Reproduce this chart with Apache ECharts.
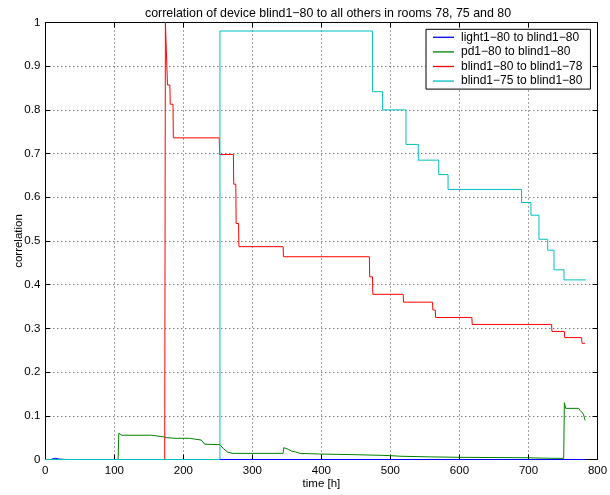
<!DOCTYPE html>
<html><head><meta charset="utf-8">
<script src="https://cdn.jsdelivr.net/npm/echarts@6/dist/echarts.min.js"></script>
<style>html,body{margin:0;padding:0;background:#fff}#c{width:610px;height:495px}</style>
</head><body><div id="c"></div>
<script>
const titleText = 'correlation of device blind1\u221280 to all others in rooms 78, 75 and 80';
const seriesNames = ['light1\u221280 to blind1\u221280','pd1\u221280 to blind1\u221280','blind1\u221280 to blind1\u221278','blind1\u221275 to blind1\u221280'];
const xTicks = [0,100,200,300,400,500,600,700,800];
const yTicks = [0,0.1,0.2,0.3,0.4,0.5,0.6,0.7,0.8,0.9,1];
const lightData = [[0,0],[8,0],[10,0.004],[14,0.003],[20,0.001],[30,0],[782,0]];
const pdData = [[0,0],[105.5,0],[106.5,0.060],[109,0.060],[111,0.0555],[154,0.0555],[156,0.0515],[173,0.0515],[176,0.05],[188,0.0485],[209,0.0485],[211,0.0445],[226,0.0445],[231,0.035],[253,0.034],[258,0.025],[264,0.017],[272,0.014],[344.5,0.014],[345.5,0.027],[352,0.0235],[357,0.019],[362,0.0175],[369,0.014],[397,0.0125],[450,0.011],[499,0.009],[514,0.0075],[557,0.006],[600,0.005],[700,0.004],[725,0.003],[751,0.0025],[752,0.13],[754,0.117],[773,0.117],[775,0.112],[778,0.107],[780,0.102],[782,0.0895]];
const blind78Data = [[0,0],[173,0],[174,1.0],[177,0.857],[180.5,0.857],[181,0.813],[185,0.813],[185.5,0.736],[252,0.736],[252.5,0.698],[272.5,0.698],[273,0.63],[276,0.63],[276.5,0.54],[280,0.54],[280.5,0.487],[344.5,0.487],[345,0.464],[469.5,0.464],[470,0.418],[474,0.418],[474.5,0.378],[518.5,0.378],[519,0.36],[561,0.36],[561.5,0.342],[565,0.342],[565.5,0.325],[618,0.325],[618.5,0.309],[733.5,0.309],[734,0.293],[752,0.293],[752.5,0.279],[777,0.279],[777.5,0.266],[782,0.266]];
const blind75Data = [[0,0],[253,0.9805],[474.2,0.8417],[488.7,0.80],[522.5,0.721],[540.4,0.685],[570,0.652],[583.5,0.618],[690,0.588],[703.6,0.559],[715.2,0.504],[727.8,0.479],[737,0.434],[751.4,0.411],[783,0.411]];
const colors = ['#0000ff','#008000','#ff0000','#00bfbf'];

const font = 'Liberation Sans, Arial, Helvetica, sans-serif';
const chart = echarts.init(document.getElementById('c'), null, {renderer:'canvas'});
const axisCommon = {
  type:'value',
  axisLine:{show:true,onZero:false,lineStyle:{color:'#000',width:1}},
  axisTick:{show:true,inside:true,length:5,lineStyle:{color:'#000'}},
};
function mkSeries(i, data, step){
  return {name:seriesNames[i], type:'line', data:data, step:step||false, symbol:'none', showSymbol:false,
    lineStyle:{color:colors[i],width:1}, itemStyle:{color:colors[i]}, animation:false, silent:true, clip:true};
}
chart.setOption({
  animation:false,
  title:{text:titleText,left:323,top:3,textAlign:'center',textStyle:{fontFamily:font,fontSize:12.4,fontWeight:'normal',color:'#000'}},
  grid:{left:45.3,right:12.5,top:22.5,bottom:35.5,containLabel:false,outerBoundsMode:'none'},
  legend:{orient:'vertical',left:426,top:29.3,
    data:seriesNames.map((n,i)=>({name:n,icon:'path://M0,0H21V1.3H0Z',itemStyle:{color:colors[i],borderWidth:0}})),
    itemWidth:21,itemHeight:10,itemGap:0.6,
    padding:[1,8,1,7],borderColor:'#000',borderWidth:1,backgroundColor:'#fff',
    textStyle:{fontFamily:font,fontSize:12,color:'#000',lineHeight:14,padding:[0,0,0,2]}},
  xAxis:[
    Object.assign({},axisCommon,{min:0,max:800,interval:100,position:'bottom',name:'time [h]',nameLocation:'middle',nameGap:18,nameMoveOverlap:false,
      nameTextStyle:{fontFamily:font,fontSize:11.5,color:'#000'},
      axisLabel:{fontFamily:font,fontSize:11.5,color:'#000',margin:5,formatter:v=>String(v)},
      splitLine:{show:true,lineStyle:{color:'#444',type:[1,3],width:1}}}),
    Object.assign({},axisCommon,{min:0,max:800,interval:100,position:'top',axisLabel:{show:false},splitLine:{show:false}})
  ],
  yAxis:[
    Object.assign({},axisCommon,{min:0,max:1,interval:0.1,position:'left',name:'correlation',nameLocation:'middle',nameGap:20,nameMoveOverlap:false,
      nameTextStyle:{fontFamily:font,fontSize:11.5,color:'#000'},
      axisLabel:{fontFamily:font,fontSize:11.5,color:'#000',margin:5,formatter:v=>String(Math.round(v*10)/10)},
      splitLine:{show:true,lineStyle:{color:'#444',type:[1,3],width:1}}}),
    Object.assign({},axisCommon,{min:0,max:1,interval:0.1,position:'right',axisLabel:{show:false},splitLine:{show:false}})
  ],
  series:[mkSeries(0,lightData),mkSeries(1,pdData),mkSeries(2,blind78Data),mkSeries(3,blind75Data,'end')]
});
</script></body></html>
